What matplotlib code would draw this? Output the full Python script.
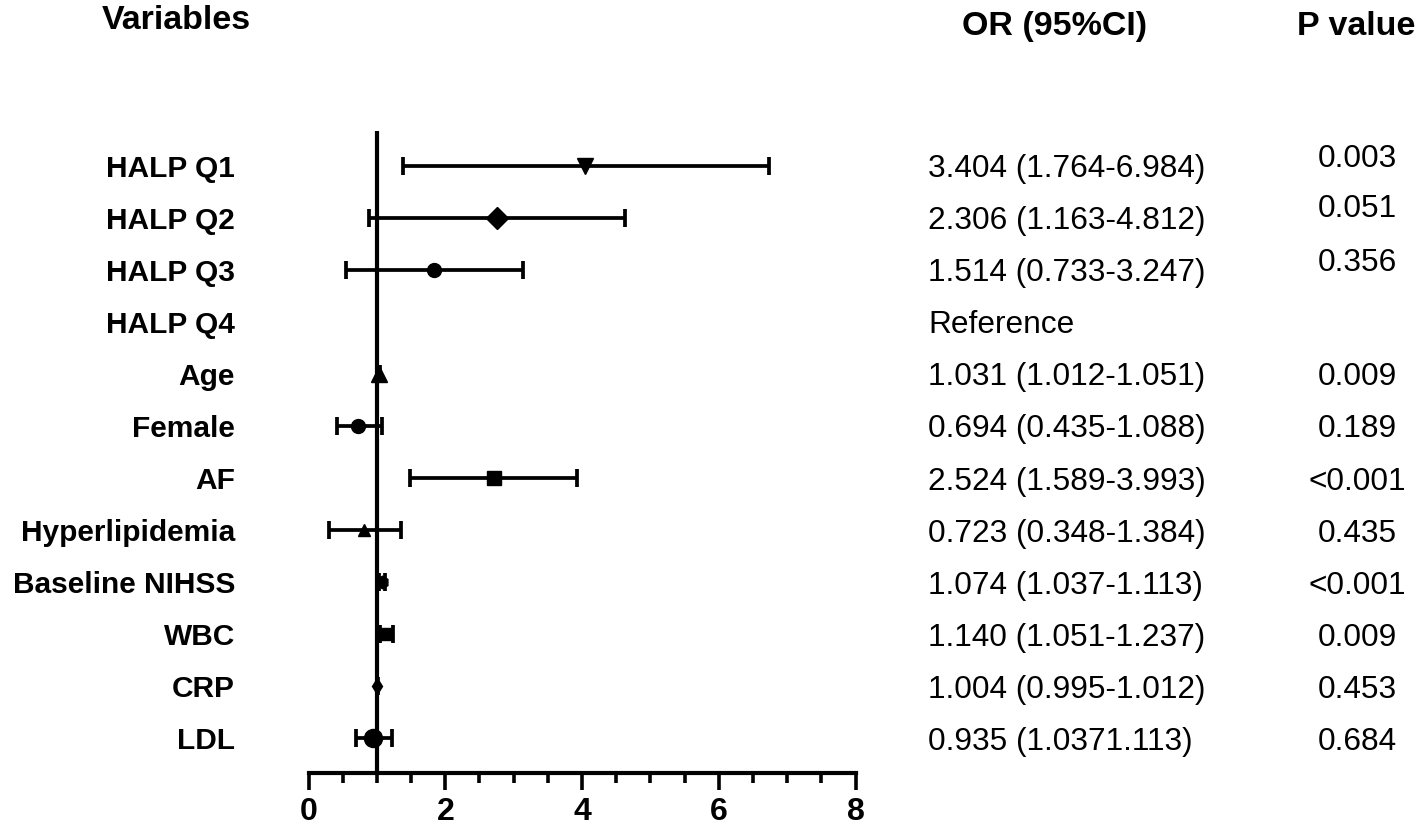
import numpy as np
import matplotlib.pyplot as plt
import matplotlib.transforms as mtransforms
from matplotlib.ticker import MultipleLocator

plt.rcParams['font.family'] = ['Liberation Sans', 'DejaVu Sans']

# donnees
variables = ["HALP Q1", "HALP Q2", "HALP Q3", "HALP Q4", "Age", "Female", "AF",
             "Hyperlipidemia", "Baseline NIHSS", "WBC", "CRP", "LDL"]
or_point = [4.05, 2.76, 1.84, np.nan, 1.035, 0.73, 2.71, 0.81, 1.074, 1.14, 1.004, 0.947]
ci_low = [1.38, 0.89, 0.545, np.nan, 1.012, 0.41, 1.49, 0.30, 1.037, 1.051, 0.995, 0.694]
ci_high = [6.73, 4.63, 3.13, np.nan, 1.051, 1.07, 3.92, 1.35, 1.113, 1.237, 1.012, 1.225]
or_text = ["3.404 (1.764-6.984)", "2.306 (1.163-4.812)", "1.514 (0.733-3.247)", "Reference",
           "1.031 (1.012-1.051)", "0.694 (0.435-1.088)", "2.524 (1.589-3.993)",
           "0.723 (0.348-1.384)", "1.074 (1.037-1.113)", "1.140 (1.051-1.237)",
           "1.004 (0.995-1.012)", "0.935 (1.0371.113)"]
p_text = ["0.003", "0.051", "0.356", "", "0.009", "0.189", "<0.001", "0.435",
          "<0.001", "0.009", "0.453", "0.684"]
x_ticks = [0, 2, 4, 6, 8]

# style des marqueurs
markers = ['v', 'D', 'o', None, '^', 'o', 's', '^', 'h', 's', 'd', 'o']
msizes = [12, 11, 10, 0, 11, 10, 10, 9, 9, 8, 8, 13]
p_nudge = [-0.2, -0.24, -0.2, 0, 0, 0, 0, 0, 0, 0, 0, 0]

W, H = 1418, 827
fig = plt.figure(figsize=(W / 100, H / 100), dpi=100)
ax = fig.add_axes([308.5 / W, 1 - 773 / H, 547 / W, 642 / H])

rows = np.arange(len(variables))
for i in rows:
    if np.isnan(or_point[i]):
        continue
    x = or_point[i]
    ax.errorbar([x], [i], xerr=[[x - ci_low[i]], [ci_high[i] - x]],
                fmt=markers[i], color='black', ms=msizes[i],
                elinewidth=2.7, capsize=6.5, capthick=2.7)

ax.axvline(1, color='black', lw=3)

ax.set_xlim(0, 8)
ax.set_ylim(11.673, -0.673)
ax.set_yticks([])
ax.set_xticks(x_ticks)
ax.set_xticklabels([str(t) for t in x_ticks], fontsize=23, fontweight='bold')
ax.xaxis.set_minor_locator(MultipleLocator(0.5))
ax.tick_params(axis='x', which='major', length=12, width=2.6, pad=5)
ax.tick_params(axis='x', which='minor', length=7, width=2.6)
for s in ['left', 'top', 'right']:
    ax.spines[s].set_visible(False)
ax.spines['bottom'].set_linewidth(3)

trans = mtransforms.blended_transform_factory(fig.transFigure, ax.transData)
for i in rows:
    fig.text(235 / W, i, variables[i], transform=trans, ha='right', va='center_baseline',
             fontsize=21.5, fontweight='bold')
    fig.text(928 / W, i, or_text[i], transform=trans, ha='left', va='center_baseline',
             fontsize=22.8)
    fig.text(1357 / W, i + p_nudge[i], p_text[i], transform=trans, ha='center',
             va='center_baseline', fontsize=22.8)

fig.text(102 / W, 1 - 29 / H, "Variables", ha='left', va='baseline',
         fontsize=24.5, fontweight='bold')
fig.text(1055 / W, 1 - 35 / H, "OR (95%CI)", ha='center', va='baseline',
         fontsize=24.5, fontweight='bold')
fig.text(1297 / W, 1 - 35 / H, "P value", ha='left', va='baseline',
         fontsize=24.5, fontweight='bold')

fig.savefig("out.png", dpi=100)
